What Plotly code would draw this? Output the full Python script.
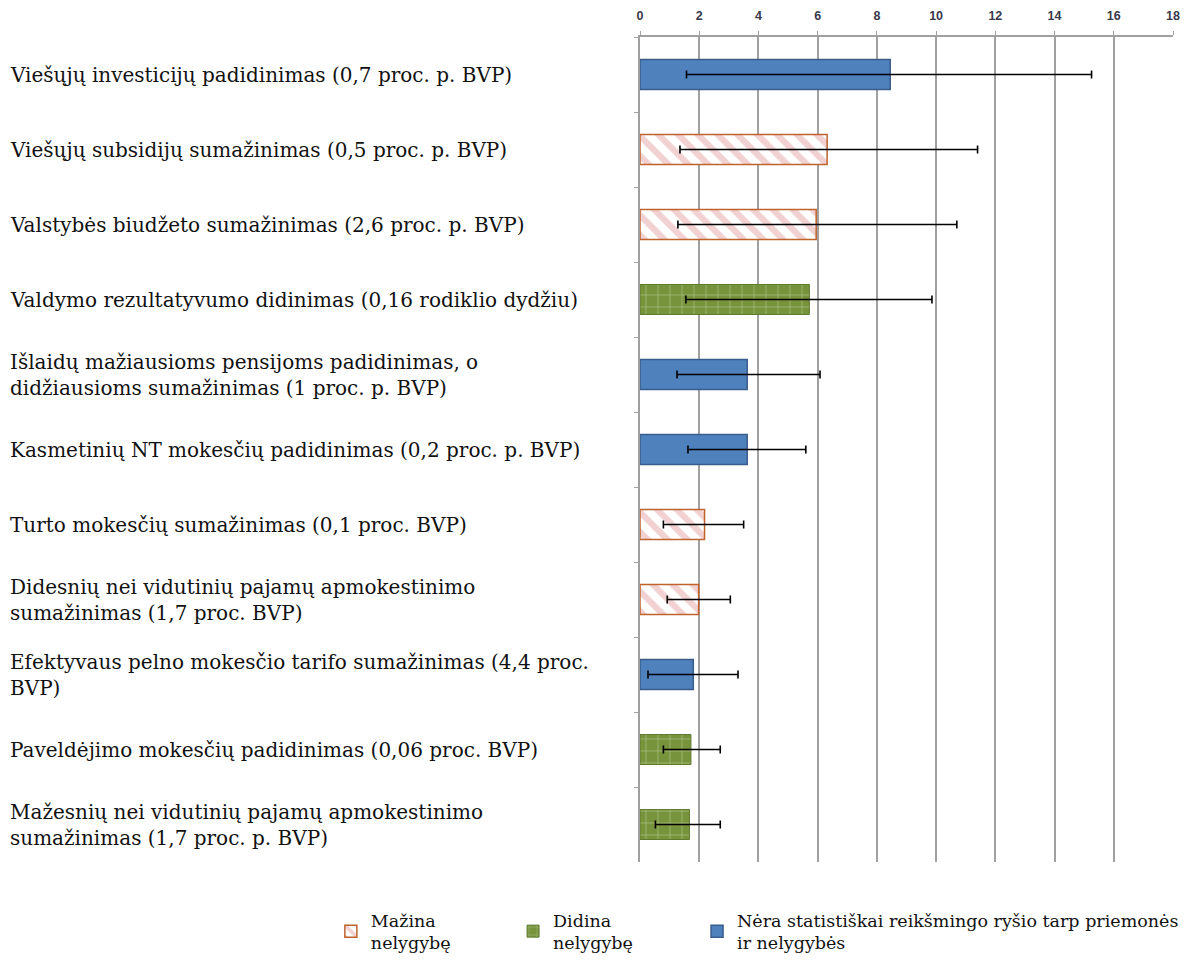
import plotly.graph_objects as go

categories = [
    "Viešųjų investicijų padidinimas (0,7 proc. p. BVP)",
    "Viešųjų subsidijų sumažinimas (0,5 proc. p. BVP)",
    "Valstybės biudžeto sumažinimas (2,6 proc. p. BVP)",
    "Valdymo rezultatyvumo didinimas (0,16 rodiklio dydžiu)",
    "Išlaidų mažiausioms pensijoms padidinimas, o<br>didžiausioms sumažinimas (1 proc. p. BVP)",
    "Kasmetinių NT mokesčių padidinimas (0,2 proc. p. BVP)",
    "Turto mokesčių sumažinimas (0,1 proc. BVP)",
    "Didesnių nei vidutinių pajamų apmokestinimo<br>sumažinimas (1,7 proc. BVP)",
    "Efektyvaus pelno mokesčio tarifo sumažinimas (4,4 proc.<br>BVP)",
    "Paveldėjimo mokesčių padidinimas (0,06 proc. BVP)",
    "Mažesnių nei vidutinių pajamų apmokestinimo<br>sumažinimas (1,7 proc. p. BVP)",
]
values = [8.45, 6.32, 5.95, 5.72, 3.62, 3.62, 2.18, 1.98, 1.80, 1.72, 1.67]
err_low = [1.57, 1.35, 1.28, 1.55, 1.25, 1.62, 0.79, 0.92, 0.27, 0.79, 0.52]
err_high = [15.25, 11.4, 10.7, 9.86, 6.08, 5.6, 3.5, 3.05, 3.31, 2.71, 2.71]
groups = ["n", "m", "m", "d", "n", "n", "m", "m", "n", "d", "d"]

group_names = {
    "m": "Mažina<br>nelygybę",
    "d": "Didina<br>nelygybę",
    "n": "Nėra statistiškai reikšmingo ryšio tarp priemonės<br>ir nelygybės",
}
x_ticks = list(range(0, 19, 2))

FONT = "DejaVu Serif"
FS = 20
LFS = 17.5

styles = {
    "m": dict(color="white", line=dict(color="#C0622B", width=1.5),
              pattern=dict(shape="\\", fgcolor="#E4A3A3", bgcolor="white", size=14, solidity=0.45)),
    "d": dict(color="#77933C", line=dict(color="#5E7A2C", width=1),
              pattern=dict(shape="+", fgcolor="#D9E5C3", bgcolor="#77933C", size=12, solidity=0.12)),
    "n": dict(color="#4F81BD", line=dict(color="#385D8A", width=1.5)),
}
legend_ids = {"m": "legend", "d": "legend2", "n": "legend3"}

fig = go.Figure()
for g in ["m", "d", "n"]:
    idx = [i for i, gg in enumerate(groups) if gg == g]
    fig.add_trace(go.Bar(
        y=[categories[i] for i in idx],
        x=[values[i] for i in idx],
        orientation="h",
        name=group_names[g],
        legend=legend_ids[g],
        marker=styles[g],
        width=0.4,
        error_x=dict(type="data", symmetric=False,
                     array=[err_high[i] - values[i] for i in idx],
                     arrayminus=[values[i] - err_low[i] for i in idx],
                     color="black", thickness=1.6, width=4),
        hoverinfo="x+y",
    ))

for c in categories:
    fig.add_annotation(x=0, xref="paper", xshift=-632, y=c, yref="y",
                       text=c, showarrow=False, xanchor="left", align="left",
                       font=dict(family=FONT, size=FS, color="#111111"))

leg_common = dict(orientation="h", xref="container", yref="container",
                  xanchor="left", y=0.064, yanchor="top",
                  font=dict(family=FONT, size=LFS, color="#111111"),
                  bgcolor="rgba(0,0,0,0)")

fig.update_layout(
    width=1187, height=955,
    margin=dict(l=632, r=22, t=29, b=101, autoexpand=False),
    plot_bgcolor="white", paper_bgcolor="white",
    barmode="overlay",
    showlegend=True,
    legend=dict(x=0.272, **leg_common),
    legend2=dict(x=0.4255, **leg_common),
    legend3=dict(x=0.5805, **leg_common),
    xaxis=dict(side="top", range=[0, 18], tickvals=x_ticks, ticktext=[str(t) for t in x_ticks],
               showgrid=True, gridcolor="#A0A0A0", gridwidth=1.5,
               showline=True, linecolor="#A0A0A0", linewidth=1.5,
               ticks="outside", ticklen=4, tickcolor="#A0A0A0",
               ticklabelstandoff=6,
               tickfont=dict(family="Liberation Sans, Arial", size=12.5, color="#3a3a4a", weight="bold"),
               zeroline=False, fixedrange=True),
    yaxis=dict(categoryorder="array", categoryarray=categories, autorange="reversed",
               showticklabels=False, showline=True, linecolor="#A0A0A0", linewidth=1.5,
               ticks="outside", tickson="boundaries", ticklen=4, tickcolor="#A0A0A0",
               showgrid=False, fixedrange=True),
)

fig.write_html("out.html")
